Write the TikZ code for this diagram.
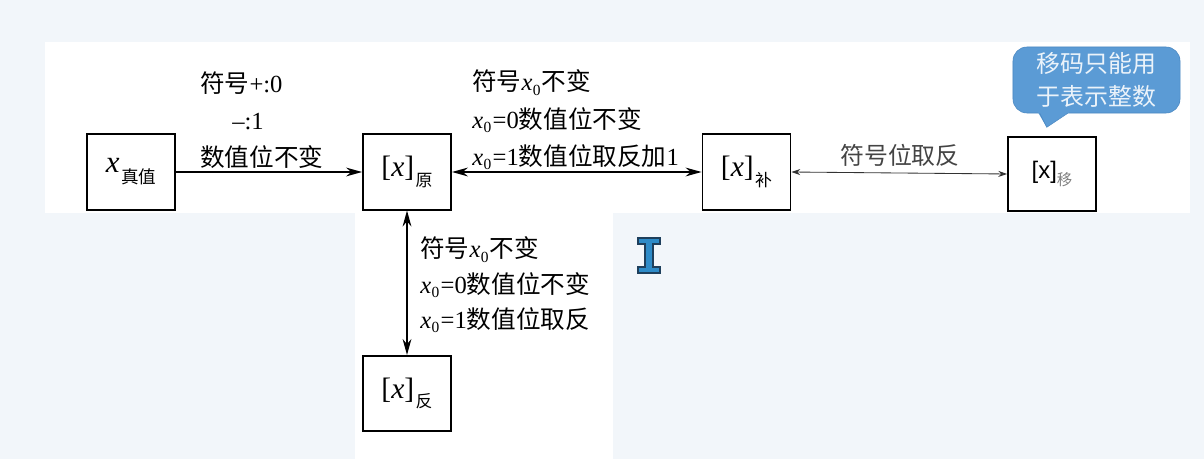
\documentclass[tikz,border=0pt]{standalone}
\usepackage{fontspec}
\setmainfont{Liberation Serif}
\newfontfamily\cjk{Noto Sans CJK SC}
\newfontfamily\arialf{Liberation Sans}
\usetikzlibrary{arrows.meta,calc}
\newcommand\zh[1]{{\cjk #1}}
\newcommand\xz[1]{{\itshape x}\kern0.02em\raisebox{-0.4ex}{\fontsize{11}{11}\selectfont #1}\kern0.05em}
\newcommand\bx[1]{[{\itshape x}]\kern0.05em\raisebox{-0.7ex}{\cjk\fontsize{12}{12}\selectfont #1}}
\definecolor{bgc}{HTML}{F2F6FA}
\definecolor{bubble}{HTML}{5B9BD5}
\definecolor{bubbleedge}{HTML}{4A88C2}
\definecolor{cursorc}{HTML}{2E8BC8}
\definecolor{cursoredge}{HTML}{1E3F5C}
\definecolor{labelgray}{HTML}{444444}
\begin{document}
\begin{tikzpicture}[x=0.025cm,y=-0.025cm,
  box/.style={draw,line width=1.3pt,minimum width=2.2cm,minimum height=1.88cm,inner sep=0pt,fill=white,font=\fontsize{21}{22}\selectfont},
  lbl/.style={anchor=west,align=left,inner sep=0pt,font=\fontsize{17.5}{26.5}\selectfont},
  bigarrow/.style={line width=1.1pt,-{Stealth[length=4mm,width=2.2mm]}},
  bigboth/.style={line width=1.1pt,{Stealth[length=4mm,width=2.2mm]}-{Stealth[length=4mm,width=2.2mm]}},
  smallboth/.style={line width=0.6pt,draw=black!80,{Stealth[length=2.2mm,width=1.5mm]}-{Stealth[length=2.2mm,width=1.5mm]}}
]
\useasboundingbox (0,0) rectangle (1204,459);
\fill[bgc] (0,0) rectangle (1204,459);
\fill[white] (45,42) rectangle (1190,213);
\fill[white] (355,213) rectangle (613,459);

% boxes
\node[box] (tv) at (131,172) {{\itshape\fontsize{22}{22}\selectfont x}\kern0.05em\raisebox{-0.8ex}{\cjk\fontsize{12.5}{12.5}\selectfont 真值}};
\node[box] (yuan) at (407,172) {\bx{原}};
\node[box] (bu) at (746.5,172) {\bx{补}};
\node[box,minimum height=1.85cm] (yi) at (1052,174) {\arialf\fontsize{17}{18}\selectfont[x]\raisebox{-0.5ex}{\cjk\color{gray}\fontsize{11}{11}\selectfont 移}};
\node[box] (fan) at (407,393.5) {\bx{反}};

% connectors
\draw[bigarrow] (tv.east) -- (yuan.west);
\draw[bigboth] (yuan.east) -- (bu.west);
\draw[smallboth] (bu.east) -- (yi.west);
\draw[bigboth] (yuan.south) -- (fan.north);

% labels
\node[lbl] (lblleft) at (200,120) {\zh{符号}+:0\\\hspace*{0.8cm}--:1\\\zh{数值位不变}};
\node[lbl] (lblmid) at (472,120) {\zh{符号}\xz{0}\zh{不变}\\\xz{0}=0\zh{数值位不变}\\\xz{0}=1\zh{数值位取反加}1};
\node[lbl,font=\fontsize{17.5}{25}\selectfont] (lbldown) at (420,285) {\zh{符号}\xz{0}\zh{不变}\\\xz{0}=0\zh{数值位不变}\\\xz{0}=1\zh{数值位取反}};
\node[inner sep=0pt,text=labelgray,font=\cjk\fontsize{17}{20}\selectfont] (lblright) at (900,155) {符号位取反};

% callout
\node[fill=bubble,draw=bubbleedge,rounded corners=0.35cm,minimum width=4.175cm,minimum height=1.65cm,text=white!88!bubble,align=center,font=\cjk\fontsize{17}{23}\selectfont] (callout) at (1096.5,80) {移码只能用\\于表示整数};
\fill[bubble] ($(callout.south west)+(25,-1.5)$) -- ($(callout.south west)+(34,14)$) -- ($(callout.south west)+(57,-1.5)$) -- cycle;
\draw[bubbleedge,line width=0.4pt] ($(callout.south west)+(27,0)$) -- ($(callout.south west)+(34,14)$) -- ($(callout.south west)+(55,0)$);

% text cursor
\filldraw[fill=cursorc,draw=cursoredge,line width=0.8pt] (638,238) -- (660,238) -- (660,244) -- (653,244) -- (653,267) -- (660,267) -- (660,273) -- (638,273) -- (638,267) -- (645,267) -- (645,244) -- (638,244) -- cycle;
\end{tikzpicture}
\end{document}
